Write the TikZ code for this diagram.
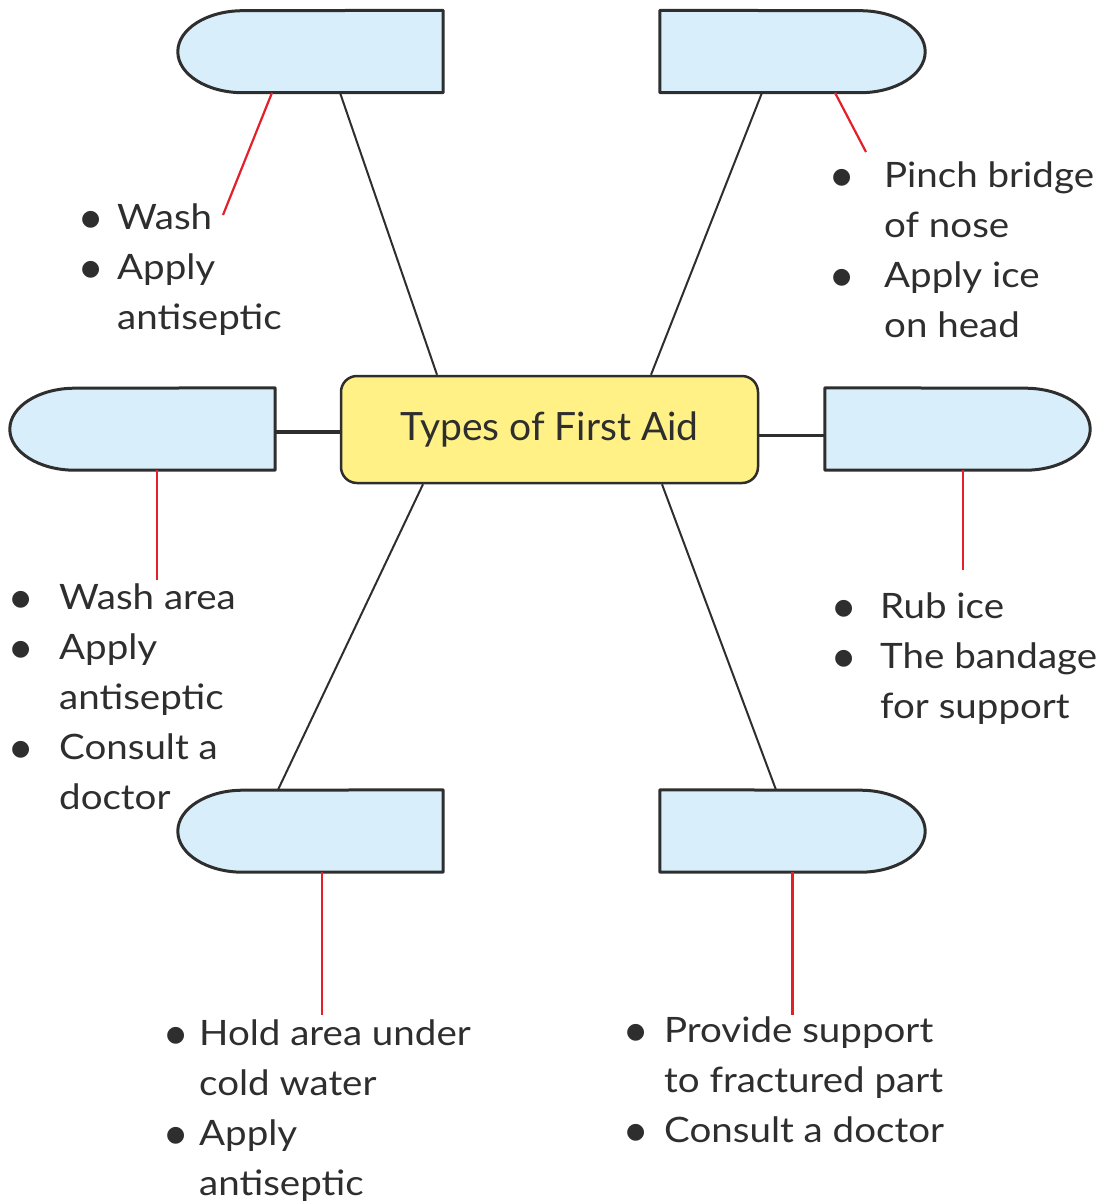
\documentclass[tikz,border=0pt]{standalone}
\usepackage{fontspec}
\setmainfont{Lato}[FakeStretch=1.1]
\newfontfamily\titlef{Lato}
\newfontfamily\symf{DejaVu Sans}
\definecolor{boxblue}{HTML}{D9EEFB}
\definecolor{cyel}{HTML}{FFF185}
\definecolor{edge}{HTML}{2E2E2E}
\definecolor{cred}{HTML}{E3202A}
\newcommand{\bl}[1]{\makebox[#1][l]{\raisebox{4pt}{\fontsize{22}{22}\selectfont\symf ●}}}
\newcommand{\ind}[1]{\hspace*{#1}}
\begin{document}
\begin{tikzpicture}[x=1pt,y=-1pt,
 holder/.style={minimum width=265pt, minimum height=82pt, inner sep=0pt, draw=none},
 pillshape/.style={draw=edge, line width=3pt, fill=boxblue, line join=round},
 link/.style={draw=edge, line width=2pt},
 redlink/.style={draw=cred, line width=2.2pt},
 lst/.style={anchor=base west, inner sep=0pt, font=\fontsize{35}{50}\selectfont, text=edge}]
\useasboundingbox (0,0) rectangle (1116,1203);

% placeholder nodes for the boxes
\node[holder] (tl) at (310.5,51.5) {};
\node[holder] (tr) at (792.5,51.5) {};
\node[holder] (ml) at (142.5,429) {};
\node[holder] (mr) at (957.5,429) {};
\node[holder] (bl) at (310.5,831) {};
\node[holder] (br) at (792.5,831) {};

% center node
\node[draw=edge, line width=2.5pt, fill=cyel, rounded corners=16pt, minimum width=417pt, minimum height=107pt, inner sep=0pt, text=edge, font=\titlef\fontsize{39}{40}\selectfont] (c) at (549.5,429.5) {Types of First Aid};

% connectors
\draw[link] ([xshift=29.5pt]tl.south) -- ([xshift=-112.5pt]c.north);
\draw[link] ([xshift=-30.5pt]tr.south) -- ([xshift=101.5pt]c.north);
\draw[edge, line width=4pt] ([yshift=-3pt]ml.east) -- ([yshift=-2.5pt]c.west);
\draw[edge, line width=3pt] ([yshift=-5.5pt]c.east) -- ([yshift=-6pt]mr.west);
\draw[link] ([xshift=-126.5pt]c.south) -- ([xshift=-32.5pt]bl.north);
\draw[link] ([xshift=112.5pt]c.south) -- ([xshift=-16.5pt]br.north);

% box shapes
\draw[pillshape] (tl.north east) -- (tl.south east) -- ([xshift=65pt]tl.south west) arc[start angle=270,end angle=90,x radius=65pt,y radius=41pt] -- cycle;
\draw[pillshape] (ml.north east) -- (ml.south east) -- ([xshift=65pt]ml.south west) arc[start angle=270,end angle=90,x radius=65pt,y radius=41pt] -- cycle;
\draw[pillshape] (bl.north east) -- (bl.south east) -- ([xshift=65pt]bl.south west) arc[start angle=270,end angle=90,x radius=65pt,y radius=41pt] -- cycle;
\draw[pillshape] (tr.north west) -- (tr.south west) -- ([xshift=-65pt]tr.south east) arc[start angle=-90,end angle=90,x radius=65pt,y radius=41pt] -- cycle;
\draw[pillshape] (mr.north west) -- (mr.south west) -- ([xshift=-65pt]mr.south east) arc[start angle=-90,end angle=90,x radius=65pt,y radius=41pt] -- cycle;
\draw[pillshape] (br.north west) -- (br.south west) -- ([xshift=-65pt]br.south east) arc[start angle=-90,end angle=90,x radius=65pt,y radius=41pt] -- cycle;

% red leaders
\coordinate (rtl) at (223,215);
\coordinate (rtr) at (866,152);
\coordinate (rml) at (157,580);
\coordinate (rmr) at (963,570);
\coordinate (rbl) at (322,1015);
\coordinate (rbr) at (792,1015);
\draw[redlink] ([xshift=-38.5pt]tl.south) -- (rtl);
\draw[redlink] ([xshift=42.5pt]tr.south) -- (rtr);
\draw[redlink] ([xshift=14.5pt]ml.south) -- (rml);
\draw[redlink] ([xshift=5.5pt]mr.south) -- (rmr);
\draw[redlink] ([xshift=11.5pt]bl.south) -- (rbl);
\draw[cred, line width=3pt] ([xshift=-0.5pt]br.south) -- (rbr);

% lists
\node[lst] (ltl) at (81,229) {\parbox[t]{400pt}{\bl{36pt}Wash\\ \bl{36pt}Apply\\ \ind{36pt}antiseptic}};
\node[lst] (ltr) at (832,187) {\parbox[t]{400pt}{\bl{52pt}Pinch bridge\\ \ind{52pt}of nose\\ \bl{52pt}Apply ice\\ \ind{52pt}on head}};
\node[lst] (lml) at (11,609) {\parbox[t]{400pt}{\bl{48pt}Wash area\\ \bl{48pt}Apply\\ \ind{48pt}antiseptic\\ \bl{48pt}Consult a\\ \ind{48pt}doctor}};
\node[lst] (lmr) at (834,618) {\parbox[t]{400pt}{\bl{46pt}Rub ice\\ \bl{46pt}The bandage\\ \ind{46pt}for support}};
\node[lst] (lbl) at (166,1045) {\parbox[t]{400pt}{\bl{33pt}Hold area under\\ \ind{33pt}cold water\\ \bl{33pt}Apply\\ \ind{33pt}antiseptic}};
\node[lst] (lbr) at (626,1042) {\parbox[t]{400pt}{\bl{38pt}Provide support\\ \ind{38pt}to fractured part\\ \bl{38pt}Consult a doctor}};
\end{tikzpicture}
\end{document}
